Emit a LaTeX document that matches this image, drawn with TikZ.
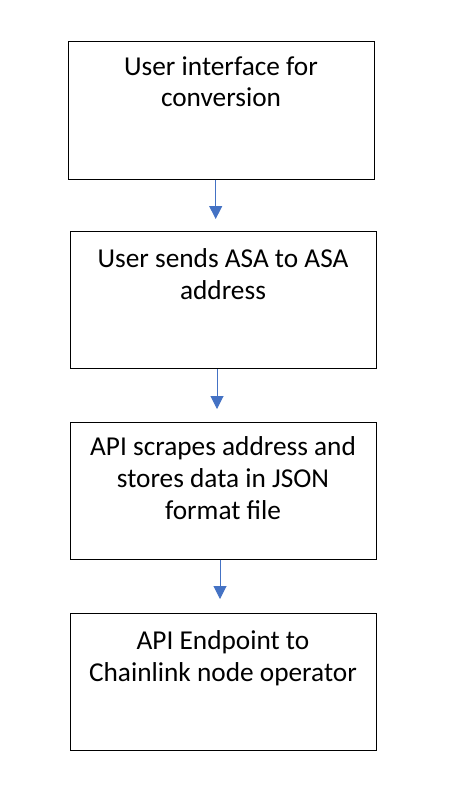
\documentclass[tikz,border=0pt]{standalone}
\usepackage{fontspec}
\setmainfont{Carlito}
\usetikzlibrary{arrows.meta}
\definecolor{arrowblue}{HTML}{4472C4}
\tikzset{
  box/.style={draw=black, line width=1pt, minimum width=306pt, minimum height=137pt, inner sep=0pt},
  label/.style={anchor=base, inner sep=0pt, font=\fontsize{27.3}{32}\selectfont},
  flow/.style={draw=arrowblue, line width=1pt, -{Triangle[width=13pt,length=13pt]}}
}
\newcommand{\boxtext}[1]{\parbox[t]{300pt}{\centering #1}}
\begin{document}
\begin{tikzpicture}[x=1pt,y=-1pt]
\useasboundingbox (0,0) rectangle (448,800);
\fill[white] (0,0) rectangle (448,800);
\node[box] (b1) at (221,110.5) {};
\node[box] (b2) at (223,300) {};
\node[box] (b3) at (223,490.5) {};
\node[box] (b4) at (223,682) {};
\node[label] (t1) at (221,75) {\boxtext{User interface for\\conversion}};
\node[label] (t2) at (223,267) {\boxtext{User sends ASA to ASA\\address}};
\node[label] (t3) at (223,455) {\boxtext{API scrapes address and\\stores data in JSON\\format file}};
\node[label] (t4) at (223,649) {\boxtext{API Endpoint to\\Chainlink node operator}};
\coordinate (e1) at (215.7,219);
\coordinate (e2) at (217,409);
\coordinate (e3) at (220,599);
\draw[flow] (b1.south -| e1) -- (e1);
\draw[flow] (b2.south -| e2) -- (e2);
\draw[flow] (b3.south -| e3) -- (e3);
\end{tikzpicture}
\end{document}
